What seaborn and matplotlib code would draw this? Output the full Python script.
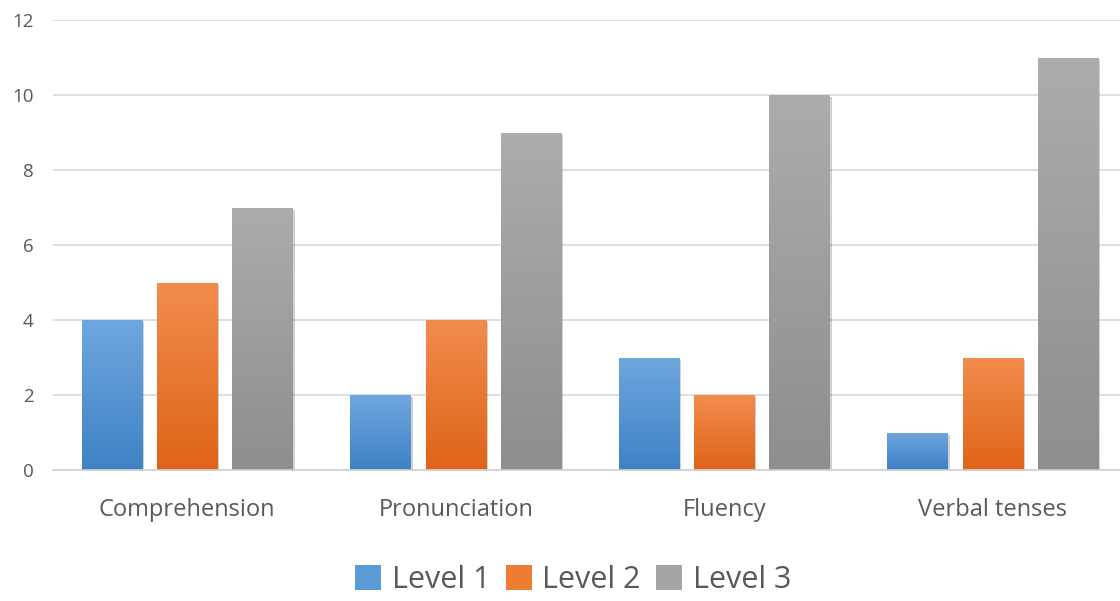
import numpy as np
import pandas as pd
import matplotlib
matplotlib.use("Agg")
import matplotlib.pyplot as plt
import matplotlib.patheffects as pe
from matplotlib.colors import LinearSegmentedColormap
import seaborn as sns

categories = ["Comprehension", "Pronunciation", "Fluency", "Verbal tenses"]
level1 = [4, 2, 3, 1]
level2 = [5, 4, 2, 3]
level3 = [7, 9, 10, 11]
series_names = ["Level 1", "Level 2", "Level 3"]
yticks = [0, 2, 4, 6, 8, 10, 12]

colors = ["#5b9bd5", "#ed7d31", "#a5a5a5"]
grad = {
    "Level 1": ("#6fa6de", "#3e82c5"),
    "Level 2": ("#f18c4e", "#df6417"),
    "Level 3": ("#acacac", "#8e8e8e"),
}

df = pd.DataFrame({
    "category": categories * 3,
    "level": [s for s in series_names for _ in categories],
    "value": level1 + level2 + level3,
})

sns.set_theme(style="white")
plt.rcParams["font.family"] = ["Open Sans", "DejaVu Sans"]

fig = plt.figure(figsize=(11.2, 6.01), dpi=100)
ax = fig.add_axes([53 / 1120, 131 / 601, 1074 / 1120, 450 / 601])

sns.barplot(data=df, x="category", y="value", hue="level", order=categories,
            hue_order=series_names, palette=colors, width=0.84, gap=0.2,
            ax=ax, legend=True, saturation=1, linewidth=0)

ax.set_ylim(0, 12)
ax.set_xlim(-0.5, 3.5)

# gradient fill on each bar, with soft shadow
for cont, name in zip(ax.containers, series_names):
    top, bot = grad[name]
    cmap = LinearSegmentedColormap.from_list(name, [bot, top])
    for patch in cont.patches:
        x0, y0 = patch.get_x(), patch.get_y()
        w, h = patch.get_width(), patch.get_height()
        patch.set_edgecolor("none")
        patch.set_path_effects([pe.SimplePatchShadow(offset=(1.5, -1.5), alpha=0.18, shadow_rgbFace="#000000"), pe.Normal()])
        img = ax.imshow(np.linspace(0, 1, 100).reshape(-1, 1), cmap=cmap, origin="lower",
                        extent=[x0, x0 + w, y0, y0 + h], aspect="auto", zorder=patch.get_zorder() + 0.1)
        img.set_clip_path(patch)

ax.set_xlim(-0.5, 3.5)
ax.set_ylim(0, 12)

ax.set_yticks(yticks)
ax.set_yticklabels([str(v) for v in yticks])
ax.yaxis.grid(True, color="#d9d9d9", linewidth=1.2)
ax.set_axisbelow(True)
for s in ["top", "right", "left"]:
    ax.spines[s].set_visible(False)
ax.spines["bottom"].set_color("#d0d0d0")
ax.spines["bottom"].set_linewidth(1.2)

ax.tick_params(axis="y", length=0, pad=14, labelsize=13.5, labelcolor="#595959")
ax.tick_params(axis="x", which="major", length=0, pad=20, labelsize=17, labelcolor="#595959")
ax.set_xticks([-0.5, 0.5, 1.5, 2.5, 3.5], minor=True)
ax.tick_params(axis="x", which="minor", length=10, width=1.2, color="#d0d0d0")
ax.set_xlabel("")
ax.set_ylabel("")

handles, labels = ax.get_legend_handles_labels()
ax.legend_.remove()
fig.legend(handles, labels, loc="center", bbox_to_anchor=(573 / 1120, 1 - 580 / 601),
           ncol=3, frameon=False, fontsize=22, handlelength=0.85, handleheight=0.85,
           handletextpad=0.35, columnspacing=0.5, labelcolor="#595959")

fig.savefig("out.png", dpi=100)
